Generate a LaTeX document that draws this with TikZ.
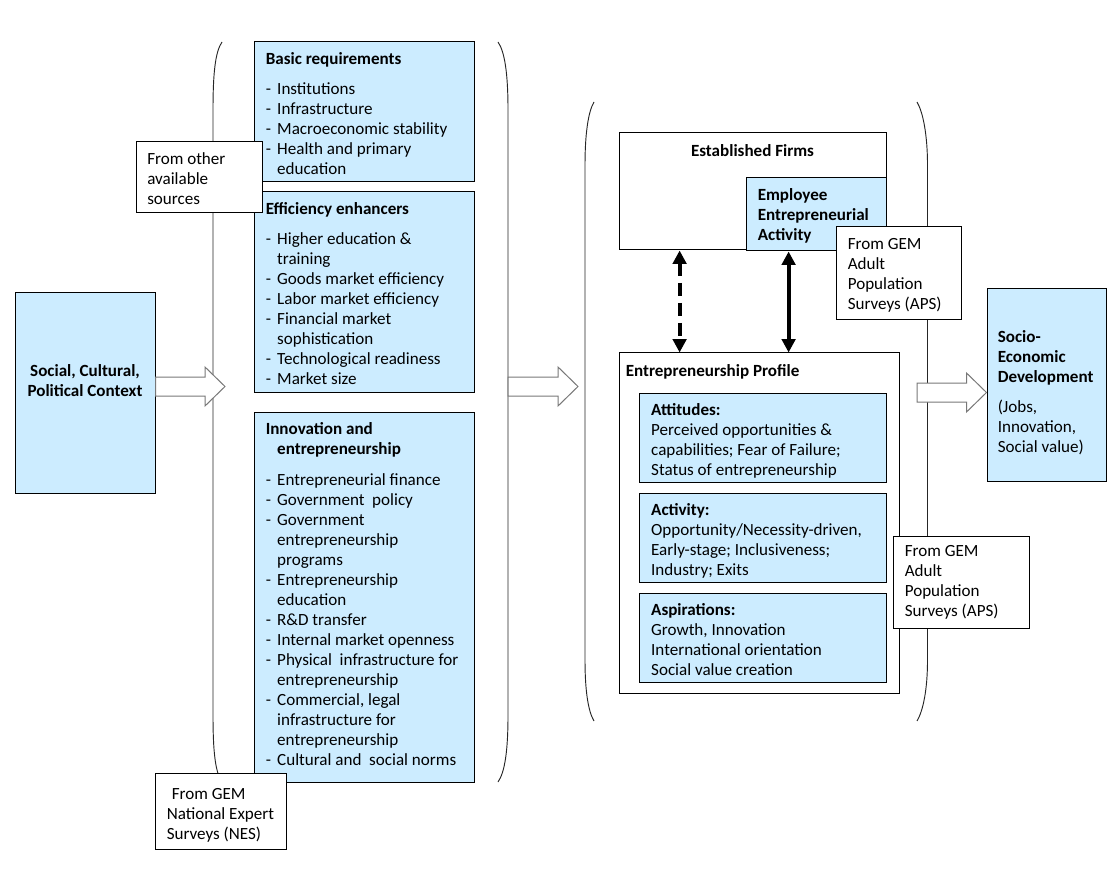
\documentclass[tikz,border=0pt]{standalone}
\usepackage{fontspec}
\setmainfont{Carlito}
\usetikzlibrary{arrows.meta,calc,fit}
\definecolor{boxblue}{RGB}{204,236,255}
\definecolor{arrowgrey}{RGB}{120,120,120}
\tikzstyle{plainbox}=[
	draw=black,
	line width=0.75pt,
	inner sep=0pt,
	fill=white
]
\tikzstyle{bluebox}=[plainbox, fill=boxblue]
\tikzstyle{txt}=[
	anchor=north west,
	inner sep=0pt,
	align=left,
	font=\fontsize{12.8}{15}\selectfont,
	execute at begin node=\strut
]
\tikzstyle{hollow}=[draw=arrowgrey, fill=white, line width=0.75pt]
\tikzstyle{twoway}=[
	{Triangle[width=10pt,length=10pt]}-{Triangle[width=10pt,length=10pt]},
	line width=3pt
]
\tikzstyle{bracket}=[draw=black!85, line width=0.7pt]
\newlength\dashw
\setlength\dashw{8.6pt}
\newcommand\itm{\makebox[\dashw][l]{-}}
\newcommand\cnt{\hspace*{\dashw}}
% wide hollow arrow between two points on one level
\newcommand\blockarrow[2]{%
	\draw[hollow] ($(#1)+(0,-9.5)$) -- ($(#2)+(-20,-9.5)$) -- ($(#2)+(-20,-19.5)$)
		-- (#2) -- ($(#2)+(-20,19.5)$) -- ($(#2)+(-20,9.5)$) -- ($(#1)+(0,9.5)$) -- cycle;}
\begin{document}
\begin{tikzpicture}[x=0.75pt,y=-0.75pt]
\useasboundingbox (0,0) rectangle (1113,873);

% context
\node [bluebox, fit={(15,293) (155,493)}] (ctx) {};
\node [txt, anchor=north, align=center] (ctxtxt) at ($(ctx.north)+(0,71.5)$)
	{\textbf{Social, Cultural,}\\ \textbf{Political Context}};

% framework conditions
\draw[bracket] (222,42) .. controls (215,52) and (213,75) .. (213,110) -- (213,715)
	.. controls (213,750) and (215,772) .. (222,782);
\draw[bracket] (498,42) .. controls (505,52) and (508,75) .. (508,110) -- (508,715)
	.. controls (508,750) and (505,772) .. (498,782);

\node [bluebox, fit={(254,42) (474,182)}] (basic) {};
\node [txt] (basictxt) at ($(basic.north west)+(12,10.5)$)
	{\textbf{Basic requirements}\\[8pt]
	\itm Institutions\\
	\itm Infrastructure\\
	\itm Macroeconomic stability\\
	\itm Health and primary\\
	\cnt education};

\node [bluebox, fit={(254,192) (474,392)}] (effic) {};
\node [txt] (effictxt) at ($(effic.north west)+(12,10.5)$)
	{\textbf{Efficiency enhancers}\\[8pt]
	\itm Higher education \&\\
	\cnt training\\
	\itm Goods market efficiency\\
	\itm Labor market efficiency\\
	\itm Financial market\\
	\cnt sophistication\\
	\itm Technological readiness\\
	\itm Market size};

\node [bluebox, fit={(254,412) (474,782)}] (innov) {};
\node [txt] (innovtxt) at ($(innov.north west)+(12,11)$)
	{\textbf{Innovation and}\\
	\cnt\textbf{entrepreneurship}\\[8pt]
	\itm Entrepreneurial finance\\
	\itm Government~ policy\\
	\itm Government\\
	\cnt entrepreneurship\\
	\cnt programs\\
	\itm Entrepreneurship\\
	\cnt education\\
	\itm R\&D transfer\\
	\itm Internal market openness\\
	\itm Physical~ infrastructure for\\
	\cnt entrepreneurship\\
	\itm Commercial, legal\\
	\cnt infrastructure for\\
	\cnt entrepreneurship\\
	\itm Cultural and~ social norms};

\node [plainbox, fit={(136,142) (262,213)}] (othersrc) {};
\node [txt] (othersrctxt) at ($(othersrc.north west)+(11.5,10.5)$)
	{From other\\ available\\ sources};

\node [plainbox, fit={(155,773) (286,849)}] (nes) {};
\node [txt] (nestxt) at ($(nes.north west)+(12,15.5)$)
	{\hspace*{3.75pt}From GEM\\ National Expert\\ Surveys (NES)};

% entrepreneurship
\draw[bracket] (594,102) .. controls (588,112) and (585,135) .. (585,165) -- (585,660)
	.. controls (585,690) and (588,711) .. (594,721);
\draw[bracket] (917,102) .. controls (923,112) and (927.5,135) .. (927.5,165) -- (927.5,660)
	.. controls (927.5,690) and (923,711) .. (917,721);

\node [plainbox, fit={(619,133) (886,250)}] (est) {};
\node [txt, anchor=north] (esttxt) at ($(est.north)+(0,9.7)$) {\textbf{Established Firms}};

\node [bluebox, fit={(746,178) (886,251)}] (eea) {};
\node [txt] (eeatxt) at ($(eea.north west)+(12,11.2)$)
	{\textbf{Employee}\\ \textbf{Entrepreneurial}\\ \textbf{Activity}};

\node [plainbox, fit={(836.5,227) (961.4,320)}] (aps1) {};
\node [txt] (aps1txt) at ($(aps1.north west)+(11.5,11.7)$)
	{From GEM\\ Adult\\ Population\\ Surveys (APS)};

\node [plainbox, fit={(619,353) (899,693)}] (prof) {};
\node [txt] (proftxt) at ($(prof.north west)+(7,10)$) {\textbf{Entrepreneurship Profile}};

\node [bluebox, fit={(639.4,393) (886,482)}] (att) {};
\node [txt] (atttxt) at ($(att.north west)+(12,11.2)$)
	{\textbf{Attitudes:}\\
	Perceived opportunities \&\\
	capabilities; Fear of Failure;\\
	Status of entrepreneurship};

\node [bluebox, fit={(639.4,493) (886,582)}] (act) {};
\node [txt] (acttxt) at ($(act.north west)+(12,11.2)$)
	{\textbf{Activity:}\\
	Opportunity/Necessity-driven,\\
	Early-stage; Inclusiveness;\\
	Industry; Exits};

\node [bluebox, fit={(639.4,593) (886,682)}] (asp) {};
\node [txt] (asptxt) at ($(asp.north west)+(12,11.2)$)
	{\textbf{Aspirations:}\\
	Growth, Innovation\\
	International orientation\\
	Social value creation};

\node [plainbox, fit={(893.7,536) (1029.5,628)}] (aps2) {};
\node [txt] (aps2txt) at ($(aps2.north west)+(11.3,10)$)
	{From GEM\\ Adult\\ Population\\ Surveys (APS)};

% outcome
\node [bluebox, fit={(987,289) (1106.7,481)}] (socio) {};
\node [txt] (sociotxt) at ($(socio.north west)+(11,42)$)
	{\textbf{Socio-}\\ \textbf{Economic}\\ \textbf{Development}\\[7.5pt]
	(Jobs,\\ Innovation,\\ Social value)};

% connectors
\coordinate (ctxout) at ($(ctx.east)+(0,-6.5)$);
\coordinate (condin) at (225,386.5);
\coordinate (condout) at (508,386.5);
\coordinate (entrin) at (578,386.5);
\coordinate (entrout) at (917,392.5);
\coordinate (socioin) at ($(socio.west)+(0,7.5)$);
\blockarrow{ctxout}{condin}
\blockarrow{condout}{entrin}
\blockarrow{entrout}{socioin}

\coordinate (dashx) at (679.6,0);
\coordinate (solidx) at (788.6,0);
\draw[twoway, dash pattern=on 10pt off 5pt] (est.south -| dashx) -- (prof.north -| dashx);
\draw[twoway] (eea.south -| solidx) -- (prof.north -| solidx);
\end{tikzpicture}
\end{document}
